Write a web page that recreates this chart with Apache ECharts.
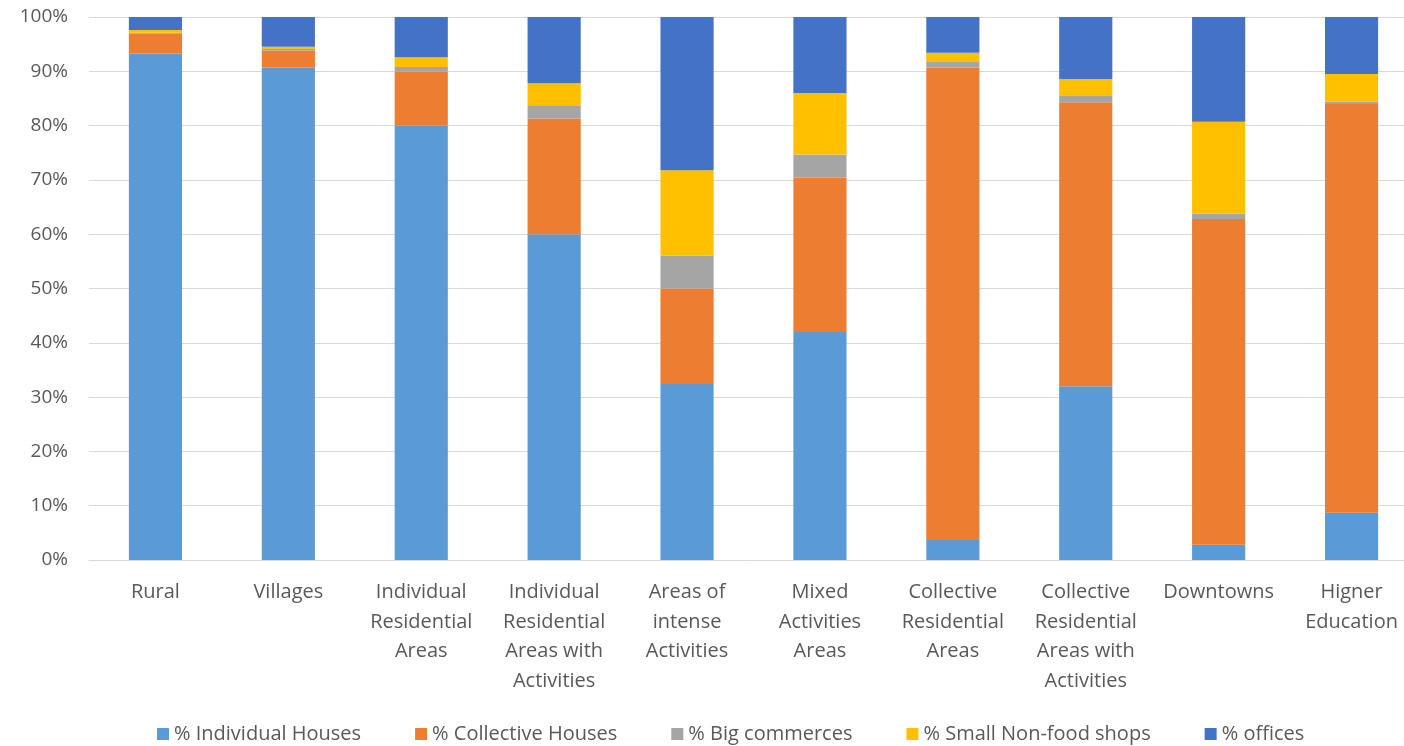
<!DOCTYPE html>
<html>
<head>
<meta charset="utf-8">
<script src="https://cdn.jsdelivr.net/npm/echarts@6/dist/echarts.min.js"></script>
<style>
  html, body { margin: 0; padding: 0; background: #fff; }
  #chart { width: 1404px; height: 746px; }
</style>
</head>
<body>
<div id="chart"></div>
<script>
// categorías (eje x)
const categorias = [
    'Rural',
    'Villages',
    'Individual\nResidential\nAreas',
    'Individual\nResidential\nAreas with\nActivities',
    'Areas of\nintense\nActivities',
    'Mixed\nActivities\nAreas',
    'Collective\nResidential\nAreas',
    'Collective\nResidential\nAreas with\nActivities',
    'Downtowns',
    'Higner\nEducation'
];

// porcentajes por serie
const casasIndividuales = [93.3, 90.7, 80.0, 60.0, 32.4, 42.0, 3.7, 32.0, 2.8, 8.7];
const casasColectivas   = [3.6, 3.1, 9.9, 21.3, 17.6, 28.4, 87.0, 52.3, 60.0, 75.3];
const grandesComercios  = [0.2, 0.3, 0.9, 2.3, 6.1, 4.3, 1.0, 1.3, 1.0, 0.4];
const tiendasPequenas   = [0.5, 0.4, 1.8, 4.2, 15.7, 11.3, 1.7, 3.0, 16.9, 5.1];
const oficinas          = [2.4, 5.5, 7.4, 12.2, 28.2, 14.0, 6.6, 11.4, 19.3, 10.5];

const nombres = ['% Individual Houses', '% Collective Houses', '% Big commerces', '% Small Non-food shops', '% offices'];
const colores = ['#5B9BD5', '#ED7D31', '#A5A5A5', '#FFC000', '#4472C4'];

const fuente = '"Open Sans", sans-serif';
const chart = echarts.init(document.getElementById('chart'));

const series = [casasIndividuales, casasColectivas, grandesComercios, tiendasPequenas, oficinas].map((d, i) => ({
    name: nombres[i],
    type: 'bar',
    stack: 'total',
    barWidth: '40%',
    data: d,
    itemStyle: { color: colores[i] }
}));

chart.setOption({
    animation: false,
    textStyle: { fontFamily: fuente },
    // el área del gráfico se sale un poco por la derecha, como en el original
    grid: { left: 89, top: 17, width: 1329, bottom: 186, outerBoundsMode: 'none' },
    legend: {
        top: 719,
        left: 152,
        itemWidth: 12,
        itemHeight: 12,
        itemGap: 54,
        icon: 'rect',
        textStyle: { fontFamily: fuente, fontSize: 20, color: '#595959' },
        data: nombres
    },
    xAxis: {
        type: 'category',
        data: categorias,
        axisLine: { lineStyle: { color: '#D9D9D9' } },
        axisTick: { show: false },
        axisLabel: {
            interval: 0,
            margin: 18,
            fontSize: 20,
            lineHeight: 29.5,
            color: '#595959',
            fontFamily: fuente,
            verticalAlign: 'top'
        }
    },
    yAxis: {
        type: 'value',
        min: 0,
        max: 100,
        interval: 10,
        axisLine: { show: false },
        axisTick: { show: false },
        splitLine: { lineStyle: { color: '#D9D9D9', width: 1 } },
        axisLabel: {
            margin: 21,
            fontSize: 19,
            color: '#595959',
            fontFamily: fuente,
            formatter: v => v + '%'
        }
    },
    series: series
});

window.addEventListener('resize', () => chart.resize());
</script>
</body>
</html>
